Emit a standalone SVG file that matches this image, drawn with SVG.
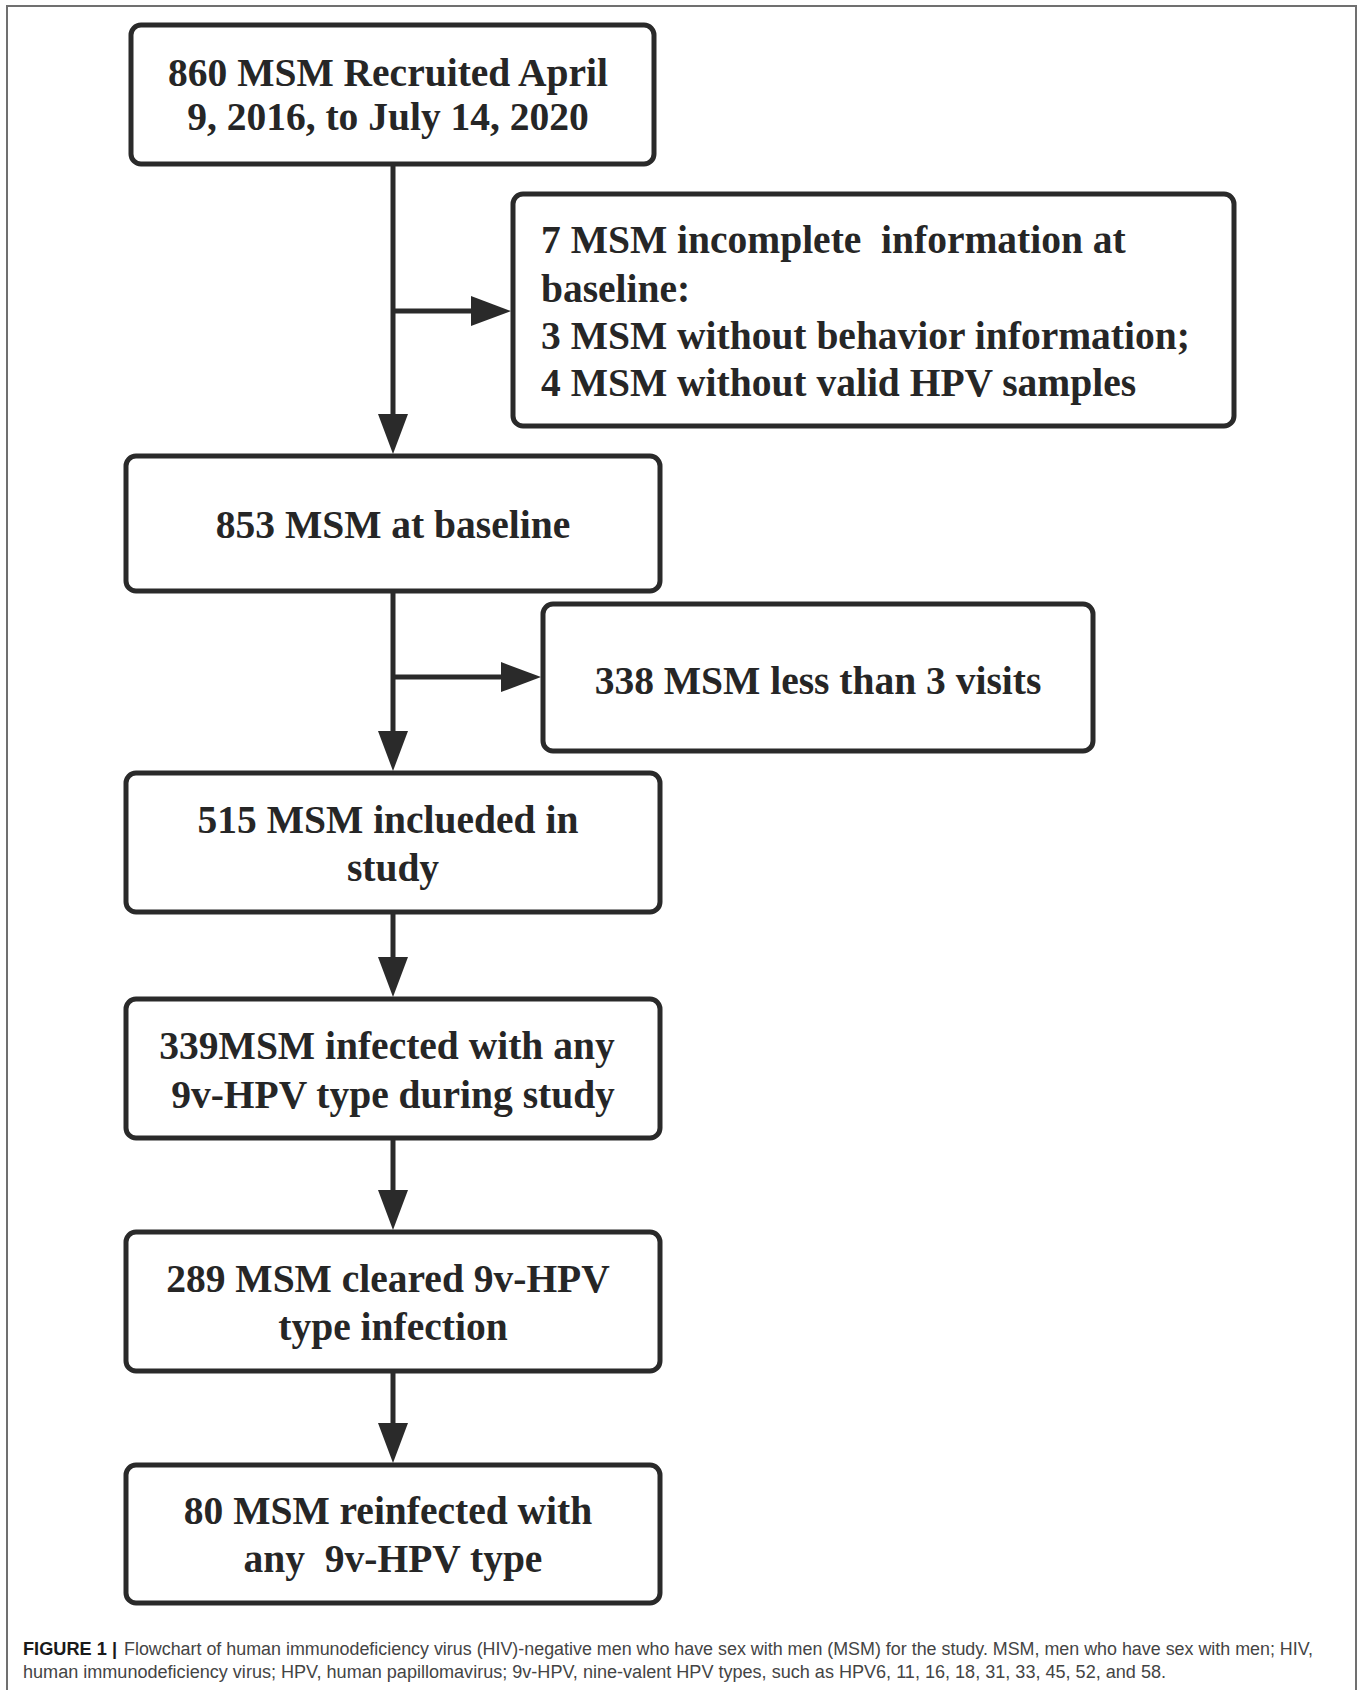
<svg xmlns="http://www.w3.org/2000/svg" width="1362" height="1690" viewBox="0 0 1362 1690">
<style>
.box{fill:#fff;stroke:#2a2a2a;stroke-width:5}
.t{font-family:"Liberation Serif","Times New Roman",serif;font-weight:bold;font-size:39.5px;fill:#262626}
.c{text-anchor:middle}
.edge{stroke:#2a2a2a;stroke-width:5;fill:none;marker-end:url(#ah)}
.cap{font-family:"Liberation Sans",Arial,sans-serif;font-size:18px}
</style>
<defs>
<marker id="ah" markerUnits="userSpaceOnUse" markerWidth="40" markerHeight="30" refX="20" refY="15" orient="auto">
<path d="M0,0 L40,15 L0,30 z" fill="#2a2a2a"/>
</marker>
</defs>
<rect width="1362" height="1690" fill="#fff"/>
<path d="M7,1695 V6 H1356 V1695" fill="none" stroke="#707070" stroke-width="2"/>
<g id="connectors">
<path class="edge" d="M393,166 V434"/>
<path class="edge" d="M393,311 H491"/>
<path class="edge" d="M393,593 V751"/>
<path class="edge" d="M393,677 H521"/>
<path class="edge" d="M393,914 V977"/>
<path class="edge" d="M393,1140 V1210"/>
<path class="edge" d="M393,1373 V1443"/>
</g>
<g id="n1">
<rect class="box" x="131" y="25" width="523" height="139" rx="10"/>
<text class="t c" x="388" y="86">860 MSM Recruited April</text>
<text class="t c" x="388" y="130">9, 2016, to July 14, 2020</text>
</g>
<g id="n2">
<rect class="box" x="513" y="194" width="721" height="232" rx="10"/>
<text class="t" x="541" y="253" xml:space="preserve">7 MSM incomplete  information at</text>
<text class="t" x="541" y="302">baseline:</text>
<text class="t" x="541" y="349">3 MSM without behavior information;</text>
<text class="t" x="541" y="396">4 MSM without valid HPV samples</text>
</g>
<g id="n3">
<rect class="box" x="126" y="456" width="534" height="135" rx="10"/>
<text class="t c" x="393" y="538">853 MSM at baseline</text>
</g>
<g id="n4">
<rect class="box" x="543" y="604" width="550" height="147" rx="10"/>
<text class="t c" x="818" y="694">338 MSM less than 3 visits</text>
</g>
<g id="n5">
<rect class="box" x="126" y="773" width="534" height="139" rx="10"/>
<text class="t c" x="388" y="833">515 MSM inclueded in</text>
<text class="t c" x="393" y="881">study</text>
</g>
<g id="n6">
<rect class="box" x="126" y="999" width="534" height="139" rx="10"/>
<text class="t c" x="387" y="1059">339MSM infected with any</text>
<text class="t c" x="393" y="1108">9v-HPV type during study</text>
</g>
<g id="n7">
<rect class="box" x="126" y="1232" width="534" height="139" rx="10"/>
<text class="t c" x="388" y="1292">289 MSM cleared 9v-HPV</text>
<text class="t c" x="393" y="1340">type infection</text>
</g>
<g id="n8">
<rect class="box" x="126" y="1465" width="534" height="138" rx="10"/>
<text class="t c" x="388" y="1524">80 MSM reinfected with</text>
<text class="t c" x="393" y="1572" xml:space="preserve">any  9v-HPV type</text>
</g>
<g id="caption">
<text class="cap" x="23" y="1655" font-weight="bold" fill="#1a1a1a" textLength="94" lengthAdjust="spacingAndGlyphs">FIGURE 1 |</text>
<text class="cap" x="124" y="1655" fill="#444" textLength="1189" lengthAdjust="spacingAndGlyphs">Flowchart of human immunodeficiency virus (HIV)-negative men who have sex with men (MSM) for the study. MSM, men who have sex with men; HIV,</text>
<text class="cap" x="23" y="1678" fill="#444" textLength="1143" lengthAdjust="spacingAndGlyphs">human immunodeficiency virus; HPV, human papillomavirus; 9v-HPV, nine-valent HPV types, such as HPV6, 11, 16, 18, 31, 33, 45, 52, and 58.</text>
</g>
</svg>
